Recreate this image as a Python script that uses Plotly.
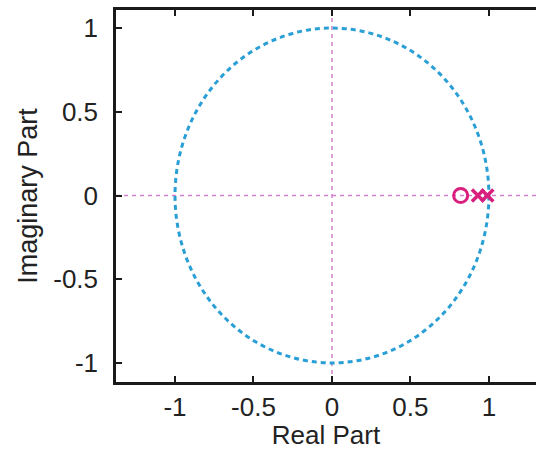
import plotly.graph_objects as go

zeros_re = [0.82]
zeros_im = [0.0]
poles_re = [0.93, 0.99]
poles_im = [0.0, 0.0]
x_ticks = [-1, -0.5, 0, 0.5, 1]
y_ticks = [-1, -0.5, 0, 0.5, 1]
tick_text = ["-1", "-0.5", "0", "0.5", "1"]
unit_radius = 1.0

pink = "#d81f7d"
blue = "#2a9fd6"
axis_pink = "#d47fd0"

fig = go.Figure()
fig.add_trace(go.Scatter(x=zeros_re, y=zeros_im, mode="markers",
                         marker=dict(symbol="circle-open", size=14, color=pink,
                                     line=dict(width=3, color=pink)),
                         showlegend=False))
fig.add_trace(go.Scatter(x=poles_re, y=poles_im, mode="markers",
                         marker=dict(symbol="x-thin-open", size=12, color=pink,
                                     line=dict(width=3.5, color=pink)),
                         showlegend=False))

fig.add_shape(type="circle", xref="x", yref="y",
              x0=-unit_radius, x1=unit_radius, y0=-unit_radius, y1=unit_radius,
              line=dict(color=blue, width=3, dash="5px,4px"), layer="below")
fig.add_shape(type="line", xref="paper", yref="y", x0=0, x1=1, y0=0, y1=0,
              line=dict(color=axis_pink, width=1.5, dash="4px,4px"), layer="below")
fig.add_shape(type="line", xref="x", yref="paper", x0=0, x1=0, y0=0, y1=1,
              line=dict(color=axis_pink, width=1.5, dash="4px,4px"), layer="below")

font = dict(family="Liberation Sans, Arial, sans-serif", size=26, color="#222222")
fig.update_layout(
    width=536, height=450,
    margin=dict(l=116, r=0, t=10, b=68, autoexpand=False),
    paper_bgcolor="white", plot_bgcolor="white",
    font=font,
    xaxis=dict(range=[-1.376, 1.30], tickvals=x_ticks, ticktext=tick_text,
               showline=True, linecolor="#1a1a1a", linewidth=2.5, mirror="ticks",
               ticks="inside", ticklen=6, tickwidth=2, tickcolor="#1a1a1a",
               showgrid=False, zeroline=False, ticklabelstandoff=0,
               title=dict(text="Real Part", standoff=0, font=dict(size=26))),
    yaxis=dict(range=[-1.114, 1.108], tickvals=y_ticks, ticktext=tick_text,
               showline=True, linecolor="#1a1a1a", linewidth=2.5,
               ticks="inside", ticklen=6, tickwidth=2, tickcolor="#1a1a1a",
               showgrid=False, zeroline=False, ticklabelstandoff=10,
               title=dict(text="Imaginary Part", standoff=8, font=dict(size=27))),
)
fig.write_html("out.html", config={"displayModeBar": False},
               post_script="document.body.style.margin='0';document.body.style.overflow='hidden';")
